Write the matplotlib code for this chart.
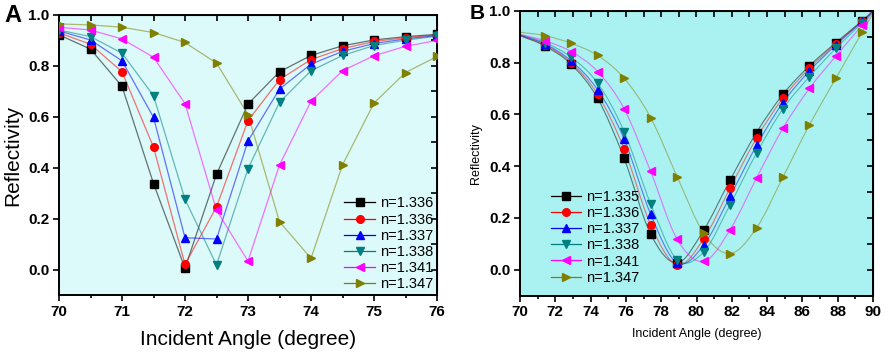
import numpy as np
import matplotlib
matplotlib.use("Agg")
import matplotlib.pyplot as plt
from matplotlib.path import Path
from matplotlib.patches import PathPatch
from matplotlib.ticker import MultipleLocator, FormatStrFormatter
from matplotlib.lines import Line2D

plt.rcParams['font.family'] = ['Liberation Sans', 'DejaVu Sans']
plt.rcParams['font.weight'] = 'bold'

# ---------------- Panel A data ----------------
angle_a = [70, 70.5, 71, 71.5, 72, 72.5, 73, 73.5, 74, 74.5, 75, 75.5, 76]
labels_a = ["n=1.336", "n=1.336", "n=1.337", "n=1.338", "n=1.341", "n=1.347"]
refl_a_1 = [0.922, 0.866, 0.720, 0.338, 0.005, 0.374, 0.650, 0.777, 0.841, 0.879, 0.902, 0.915, 0.924]
refl_a_2 = [0.930, 0.885, 0.777, 0.481, 0.020, 0.246, 0.585, 0.746, 0.825, 0.868, 0.896, 0.911, 0.922]
refl_a_3 = [0.937, 0.902, 0.820, 0.598, 0.125, 0.120, 0.505, 0.709, 0.807, 0.857, 0.888, 0.906, 0.919]
refl_a_4 = [0.941, 0.915, 0.850, 0.683, 0.276, 0.018, 0.396, 0.657, 0.781, 0.841, 0.880, 0.901, 0.917]
refl_a_5 = [0.952, 0.941, 0.906, 0.834, 0.652, 0.233, 0.033, 0.411, 0.661, 0.781, 0.840, 0.877, 0.900]
refl_a_6 = [0.965, 0.961, 0.952, 0.931, 0.892, 0.811, 0.609, 0.188, 0.044, 0.411, 0.654, 0.774, 0.837]

# ---------------- Panel B data ----------------
angle_b = [71.4, 72.9, 74.4, 75.9, 77.4, 78.9, 80.4, 81.9, 83.4, 84.9, 86.4, 87.9, 89.4]
labels_b = ["n=1.335", "n=1.336", "n=1.337", "n=1.338", "n=1.341", "n=1.347"]
refl_b_1 = [0.865, 0.794, 0.662, 0.430, 0.138, 0.026, 0.152, 0.346, 0.530, 0.678, 0.788, 0.878, 0.963]
refl_b_2 = [0.869, 0.800, 0.678, 0.467, 0.174, 0.019, 0.118, 0.315, 0.508, 0.663, 0.779, 0.874, 0.960]
refl_b_3 = [0.873, 0.807, 0.695, 0.505, 0.215, 0.026, 0.094, 0.283, 0.480, 0.646, 0.768, 0.869, 0.960]
refl_b_4 = [0.878, 0.821, 0.721, 0.534, 0.255, 0.039, 0.068, 0.251, 0.450, 0.622, 0.746, 0.856, 0.955]
refl_b_5 = [0.885, 0.843, 0.766, 0.622, 0.380, 0.118, 0.032, 0.154, 0.354, 0.547, 0.701, 0.826, 0.946]
refl_b_6 = [0.905, 0.875, 0.828, 0.740, 0.588, 0.360, 0.142, 0.062, 0.161, 0.358, 0.560, 0.740, 0.920]
# fitted-curve end values read at the axis edges (x = 70 and x = 90)
fit_start_b = [0.905, 0.906, 0.907, 0.908, 0.910, 0.918]
fit_end_b = [1.0, 1.0, 1.0, 1.0, 0.995, 0.99]
fit_edges_b = [70, 90]

colors = ["black", "red", "blue", "#008080", "#ff00ff", "#808000"]
markers = ["s", "o", "^", "v", "<", ">"]

W, H = 886, 358
fig = plt.figure(figsize=(W / 100, H / 100), dpi=100)

def style_axes(ax, bg):
    ax.set_facecolor(bg)
    for s in ax.spines.values():
        s.set_linewidth(1.4)
    ax.tick_params(which='both', direction='out', top=False, right=False,
                   labelsize=11, width=1.2)
    ax.tick_params(which='major', length=4, pad=3)
    ax.tick_params(which='minor', length=2.5)
    ax.tick_params(axis='y', which='minor', left=False)
    sx = ax.secondary_xaxis('top')
    sx.tick_params(which='both', direction='in', labeltop=False, width=1.2)
    sx.tick_params(which='major', length=4)
    sy = ax.secondary_yaxis('right')
    sy.tick_params(which='both', direction='in', labelright=False, width=1.2)
    sy.tick_params(which='major', length=4)
    return sx, sy

leg_prop = {'weight': 'normal', 'size': 10.5}

# ---------------- Panel A ----------------
axA = fig.add_axes([59 / W, 1 - 295 / H, (437 - 59) / W, (295 - 15) / H])
series_a = [refl_a_1, refl_a_2, refl_a_3, refl_a_4, refl_a_5, refl_a_6]
for y, c, m in zip(series_a, colors, markers):
    axA.plot(angle_a, y, color=c, lw=0.9, alpha=0.55, zorder=2)
    axA.plot(angle_a, y, ls='none', marker=m, color=c, ms=5.5, mec=c, zorder=3)
axA.set_xlim(70, 76)
axA.set_ylim(-0.1, 1.0)
axA.xaxis.set_major_locator(MultipleLocator(1))
axA.xaxis.set_minor_locator(MultipleLocator(0.5))
axA.yaxis.set_major_locator(MultipleLocator(0.2))
axA.yaxis.set_minor_locator(MultipleLocator(0.1))
axA.yaxis.set_major_formatter(FormatStrFormatter('%.1f'))
sx, sy = style_axes(axA, "#dcfafa")
sx.xaxis.set_major_locator(MultipleLocator(0.5))
sy.yaxis.set_major_locator(MultipleLocator(0.1))
axA.set_xlabel("Incident Angle (degree)", fontsize=15, fontweight='normal', labelpad=8)
axA.set_ylabel("Reflectivity", fontsize=15, fontweight='normal', labelpad=4)

handles_a = [Line2D([0], [0], color=c, marker=m, ms=5.5, lw=0.9) for c, m in zip(colors, markers)]
axA.legend(handles_a, labels_a, loc='lower right', frameon=False, prop=leg_prop,
           handlelength=2.1, handletextpad=0.35, labelspacing=0.15,
           borderaxespad=0.1, borderpad=0.15)
fig.text(4 / W, 1 - 22 / H, "A", fontsize=17, fontweight='bold')

# ---------------- Panel B ----------------
axB = fig.add_axes([520 / W, 1 - 295.5 / H, (873 - 520) / W, (295.5 - 11) / H])
series_b = [refl_b_1, refl_b_2, refl_b_3, refl_b_4, refl_b_5, refl_b_6]

def smooth_path(xs, ys):
    pts = np.column_stack([xs, ys])
    ext = np.vstack([2 * pts[0] - pts[1], pts, 2 * pts[-1] - pts[-2]])
    verts = [pts[0]]
    codes = [Path.MOVETO]
    for i in range(1, len(ext) - 2):
        p0, p1, p2, p3 = ext[i - 1], ext[i], ext[i + 1], ext[i + 2]
        c1 = p1 + (p2 - p0) / 6.0
        c2 = p2 - (p3 - p1) / 6.0
        verts += [c1, c2, p2]
        codes += [Path.CURVE4] * 3
    return Path(verts, codes)

for k, (y, c, m) in enumerate(zip(series_b, colors, markers)):
    xs = [fit_edges_b[0]] + angle_b + [fit_edges_b[1]]
    ys = [fit_start_b[k]] + y + [fit_end_b[k]]
    axB.add_patch(PathPatch(smooth_path(xs, ys), fc='none', ec=c, lw=0.8, alpha=0.5, zorder=2))
    axB.plot(angle_b, y, ls='none', marker=m, color=c, ms=5.5, mec=c, zorder=3)
axB.set_xlim(70, 90)
axB.set_ylim(-0.1, 1.0)
axB.xaxis.set_major_locator(MultipleLocator(2))
axB.xaxis.set_minor_locator(MultipleLocator(1))
axB.yaxis.set_major_locator(MultipleLocator(0.2))
axB.yaxis.set_minor_locator(MultipleLocator(0.1))
axB.yaxis.set_major_formatter(FormatStrFormatter('%.1f'))
sx, sy = style_axes(axB, "#aaf2f2")
sx.xaxis.set_major_locator(MultipleLocator(1))
sy.yaxis.set_major_locator(MultipleLocator(0.1))
axB.set_xlabel("Incident Angle (degree)", fontsize=9, fontweight='normal', labelpad=6)
axB.set_ylabel("Reflectivity", fontsize=9, fontweight='normal', labelpad=5)

handles_b = [Line2D([0], [0], color=c, marker=m, ms=5.5, lw=0.9) for c, m in zip(colors, markers)]
axB.legend(handles_b, labels_b, loc='upper left', bbox_to_anchor=(0.06, 0.405), frameon=False,
           prop=leg_prop, handlelength=2.1, handletextpad=0.35, labelspacing=0.15,
           borderpad=0.15)
fig.text(470 / W, 1 - 19 / H, "B", fontsize=15, fontweight='bold')

fig.savefig("out.png", dpi=100)
